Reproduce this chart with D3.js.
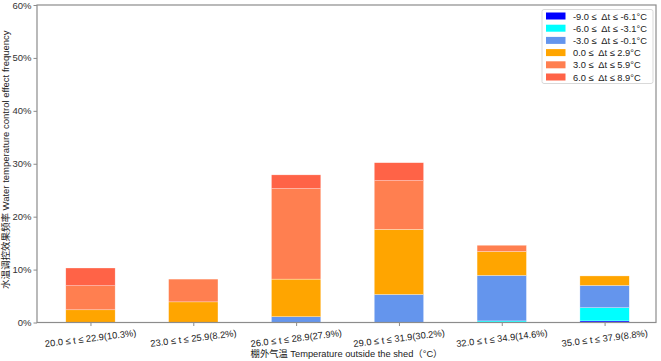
<!DOCTYPE html>
<html>
<head>
<meta charset="utf-8">
<script src="https://cdn.jsdelivr.net/npm/d3@7"></script>
<style>
  body { margin: 0; background: #fff; }
  text { font-family: "Liberation Sans", Arial, "Noto Sans CJK SC", sans-serif; }
</style>
</head>
<body>
<div id="root"></div>
<script>
// data
const categories = [
  '20.0 ≤ t ≤ 22.9(10.3%)',
  '23.0 ≤ t ≤ 25.9(8.2%)',
  '26.0 ≤ t ≤ 28.9(27.9%)',
  '29.0 ≤ t ≤ 31.9(30.2%)',
  '32.0 ≤ t ≤ 34.9(14.6%)',
  '35.0 ≤ t ≤ 37.9(8.8%)'
];
const seriesNames = [
  '-9.0 ≤  Δt ≤ -6.1°C',
  '-6.0 ≤  Δt ≤ -3.1°C',
  '-3.0 ≤  Δt ≤ -0.1°C',
  '0.0 ≤  Δt ≤ 2.9°C',
  '3.0 ≤  Δt ≤ 5.9°C',
  '6.0 ≤  Δt ≤ 8.9°C'
];
const s1 = [0, 0, 0, 0, 0, 0.3];
const s2 = [0, 0, 0, 0, 0.3, 2.5];
const s3 = [0, 0, 1.1, 5.3, 8.6, 4.2];
const s4 = [2.4, 3.9, 7.1, 12.3, 4.5, 1.8];
const s5 = [4.55, 4.3, 17.1, 9.2, 1.2, 0];
const s6 = [3.35, 0, 2.6, 3.4, 0, 0];
const yTicks = [0, 10, 20, 30, 40, 50, 60];
const colors = ['#0000ff', '#00ffff', '#6495ed', '#ffa500', '#ff7f50', '#ff6347'];

const W = 661, H = 361;
const pLeft = 37, pRight = 656, pTop = 5, pBottom = 322.5;

const svg = d3.select('#root').append('svg')
  .attr('width', W).attr('height', H);

const x = d3.scaleLinear().domain([-0.52, 5.5]).range([pLeft, pRight]);
const y = d3.scaleLinear().domain([0, 60]).range([pBottom, pTop]);

// stack
const rows = categories.map((c, i) => {
  const r = { cat: i };
  [s1, s2, s3, s4, s5, s6].forEach((s, k) => r['k' + k] = s[i]);
  return r;
});
const stack = d3.stack().keys(d3.range(6).map(k => 'k' + k))(rows);

const barW = 0.48;
svg.append('g').selectAll('g')
  .data(stack)
  .join('g')
  .attr('fill', (d, i) => colors[i])
  .selectAll('rect')
  .data(d => d)
  .join('rect')
  .attr('x', d => x(d.data.cat - barW / 2))
  .attr('width', x(barW) - x(0))
  .attr('y', d => y(d[1]))
  .attr('height', d => Math.max(0, y(d[0]) - y(d[1])))
  .attr('stroke', '#fff')
  .attr('stroke-width', 0.5)
  .attr('stroke-opacity', 0.6);

// frame
svg.append('rect')
  .attr('x', pLeft).attr('y', pTop)
  .attr('width', pRight - pLeft).attr('height', pBottom - pTop)
  .attr('fill', 'none').attr('stroke', '#8c8c8c').attr('stroke-width', 1.2);

// y axis
const yAxis = svg.append('g')
  .attr('transform', `translate(${pLeft},0)`)
  .call(d3.axisLeft(y).tickValues(yTicks).tickFormat(d => d + '%').tickSize(3.5).tickPadding(2));
yAxis.select('.domain').remove();
yAxis.selectAll('line').attr('stroke', '#8c8c8c');
yAxis.selectAll('text').attr('fill', '#333').style('font-size', '9.5px');

// x axis
const xAxis = svg.append('g')
  .attr('transform', `translate(0,${pBottom})`)
  .call(d3.axisBottom(x).tickValues(d3.range(6)).tickFormat(i => categories[i]).tickSize(3.5));
xAxis.select('.domain').remove();
xAxis.selectAll('line').attr('stroke', '#8c8c8c');
xAxis.selectAll('text')
  .attr('fill', '#222')
  .style('font-size', '9.3px')
  .attr('text-anchor', 'middle')
  .attr('y', 0)
  .attr('dy', 0)
  .attr('transform', 'translate(0,19) rotate(-7)');

// axis titles
svg.append('text')
  .attr('transform', `translate(9,${(pTop + pBottom) / 2 - 4}) rotate(-90)`)
  .attr('text-anchor', 'middle')
  .style('font-size', '9.5px')
  .attr('fill', '#222')
  .text('水温调控效果频率 Water temperature control effect frequency');

svg.append('text')
  .attr('x', (pLeft + pRight) / 2)
  .attr('y', 357)
  .attr('text-anchor', 'middle')
  .style('font-size', '9.3px')
  .attr('fill', '#222')
  .text('棚外气温 Temperature outside the shed（°C）');

// legend
const lg = svg.append('g').attr('transform', 'translate(542,9.5)');
lg.append('rect')
  .attr('width', 111).attr('height', 74)
  .attr('rx', 2)
  .attr('fill', '#fff').attr('stroke', '#d9d9d9');
seriesNames.forEach((name, i) => {
  const row = lg.append('g').attr('transform', `translate(4,${3 + i * 12.2})`);
  row.append('rect').attr('width', 19.5).attr('height', 7).attr('fill', colors[i]);
  row.append('text')
    .attr('x', 27).attr('y', 7)
    .style('font-size', '9.3px')
    .style('white-space', 'pre')
    .attr('fill', '#222')
    .text(name);
});
</script>
</body>
</html>
